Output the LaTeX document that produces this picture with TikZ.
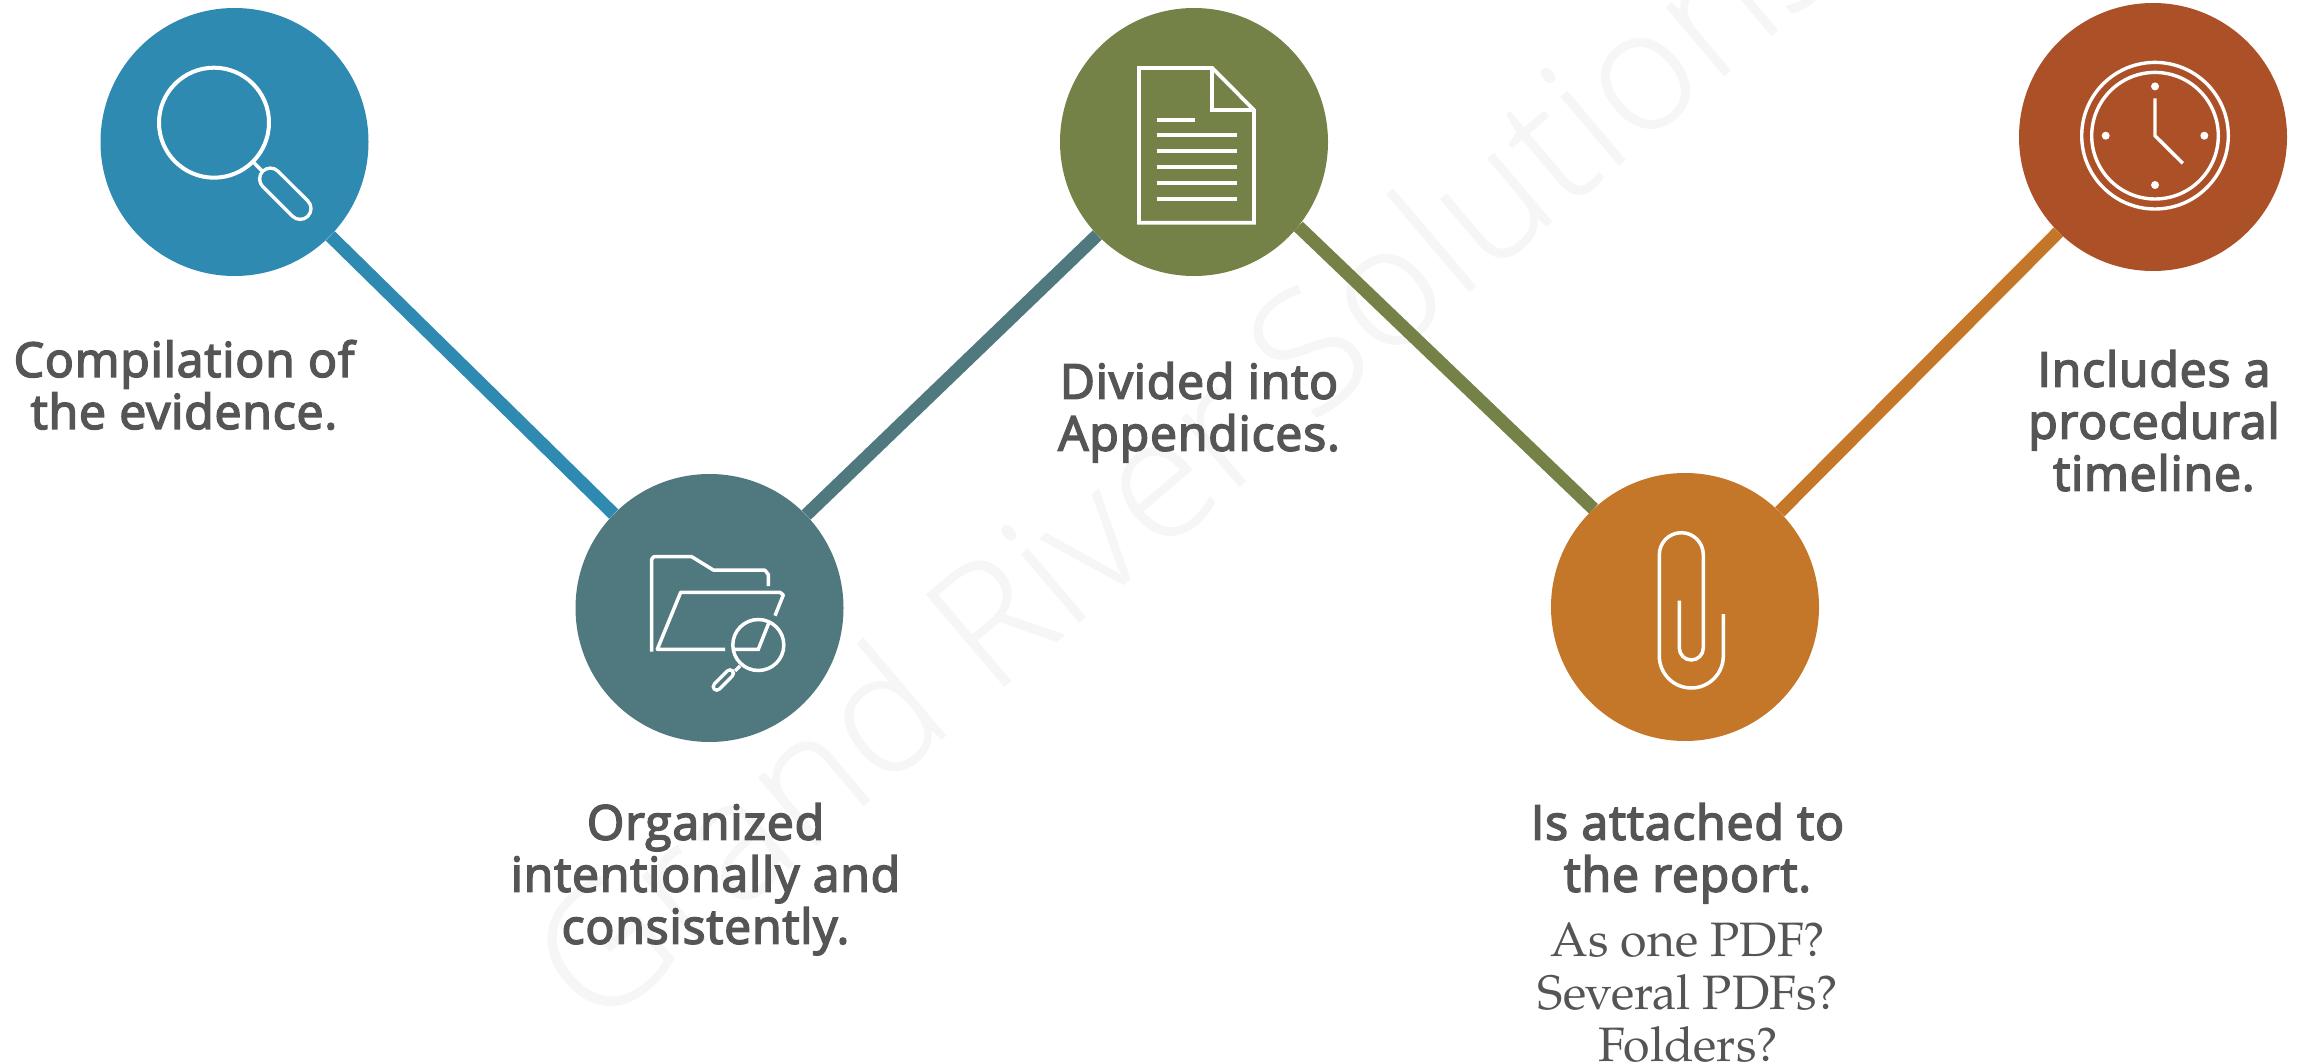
\documentclass[tikz,border=0pt]{standalone}
\usepackage{fontspec}
\setmainfont{Open Sans}
\newfontfamily\semi{Open Sans}[FakeBold=3.4,LetterSpace=1.9]
\newfontfamily\lightf{Open Sans Light}[LetterSpace=0.5,FakeBold=0.6]
\newfontfamily\serifb{TeX Gyre Pagella}
\definecolor{cblue}{HTML}{2E8AB1}
\definecolor{cteal}{HTML}{4F797E}
\definecolor{colive}{HTML}{748248}
\definecolor{corange}{HTML}{C47729}
\definecolor{crust}{HTML}{AC5027}
\definecolor{txt}{HTML}{555555}
\definecolor{wm}{HTML}{F6F6F6}
\tikzset{
 hub/.style={circle,minimum size=268pt,inner sep=0pt,fill=#1},
 link/.style={line width=13pt,draw=#1},
 icon/.style={draw=white,line width=3.5pt,fill=none},
 head/.style={font=\semi\fontsize{48}{52}\selectfont,text=txt,align=center,inner sep=0pt,anchor=north},
 sub/.style={font=\serifb\fontsize{48.3}{52.5}\selectfont,text=txt,align=center,inner sep=0pt,anchor=north},
 wmark/.style={font=\lightf\fontsize{168}{168}\selectfont,text=wm,inner sep=0pt,rotate=40.3,anchor=base west},
}
\begin{document}
\begin{tikzpicture}[x=1pt,y=-1pt]
\useasboundingbox (0,0) rectangle (2305,1064);
\clip (0,0) rectangle (2305,1064);
\node[wmark] (wmk) at (595,1033) {Grand River Solutions};
\node[hub=cblue] (c1) at (234.5,142) {};
\node[hub=cteal] (c2) at (709.5,608) {};
\node[hub=colive] (c3) at (1194,142) {};
\node[hub=corange] (c4) at (1685,607) {};
\node[hub=crust] (c5) at (2153,137) {};
\draw[link=cblue] (c1) -- (c2);
\draw[link=cteal] (c2) -- (c3);
\draw[link=colive] (c3.-39.3) -- (c4.133.8);
\draw[link=corange] (c4) -- (c5);
% magnifier
\draw[icon,line width=4pt] (214,122.7) circle[radius=55pt];
\draw[icon] (254,162.7) -- (263,172);
\draw[white,line width=25pt,line cap=round] (270.4,178.9) -- (300.2,208.6);
\draw[cblue,line width=18pt,line cap=round] (270.4,178.9) -- (300.2,208.6);
% folder
\draw[icon,line join=round] (651.7,651.7) -- (651.7,559) to[out=-90,in=180] (654,556.7) -- (691.7,556.7) -- (713.3,570) -- (764,570) to[out=0,in=-90] (768.3,574) -- (768.3,586);
\draw[icon,line join=round] (725,649.3) -- (657.3,649.3) -- (680.7,592.3) -- (780,592.3) -- (783.3,595) -- (775,615.7);
\draw[icon,line join=miter] (769.3,621.7) -- (758.3,649.3) -- (735,649.3);
\draw[icon] (758.3,645) circle[radius=25.5pt];
\draw[icon] (740,666) -- (735,671);
\draw[white,line width=10.5pt,line cap=round] (730,673.3) -- (716.7,686.7);
\draw[cteal,line width=3.5pt,line cap=round] (730,673.3) -- (716.7,686.7);
% document
\draw[icon,line width=3.7pt,miter limit=4] (1139,68) -- (1212.3,68) -- (1254,110) -- (1254,222.7) -- (1139,222.7) -- cycle;
\draw[icon,line width=3.7pt] (1212.3,68) -- (1212.3,110) -- (1254,110);
\draw[icon,line width=3.7pt] (1156.7,120) -- (1195,120);
\foreach \yy in {135,151,167,183,199} \draw[icon,line width=3.7pt] (1156.7,\yy) -- (1236.7,\yy);
% paperclip
\draw[icon,line width=3.5pt] (1679.3,600.7) -- (1679.3,648) arc[start angle=180,end angle=360,radius=12pt] -- (1703.3,554.7) arc[start angle=0,end angle=180,radius=22pt] -- (1659.3,656) arc[start angle=180,end angle=360,radius=32pt] -- (1723.3,614);
% clock
\draw[icon,line width=3.4pt] (2155,135.7) circle[radius=73.3pt];
\draw[icon,line width=3.4pt] (2155,135.7) circle[radius=63.3pt];
\fill[white] (2155,86.4) circle[radius=4pt] (2155,185) circle[radius=4pt] (2105.7,135.7) circle[radius=4pt] (2204.3,135.7) circle[radius=4pt];
\draw[icon,line width=3.4pt,line join=miter] (2155,98.3) -- (2155,135.7) -- (2182.7,163.3);
% labels
\node[head] (t1) at (184,340) {Compilation of\\the evidence.};
\node[head] (t2) at (705.5,803) {Organized\\intentionally and\\consistently.};
\node[head] (t3) at (1199,362) {Divided into\\Appendices.};
\node[head] (t4) at (1687.5,803) {Is attached to\\the report.};
\node[sub] (t4b) at (1688,922.5) {As one PDF?\\Several PDFs?\\Folders?};
\node[head] (t5) at (2154,350) {Includes a\\procedural\\timeline.};
\end{tikzpicture}
\end{document}
